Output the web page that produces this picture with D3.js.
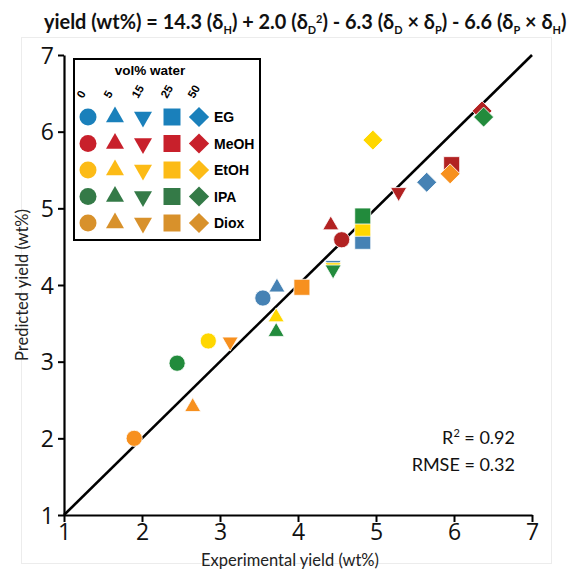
<!DOCTYPE html>
<html>
<head>
<meta charset="utf-8">
<script src="https://cdn.jsdelivr.net/npm/d3@7"></script>
<style>
  body { margin: 0; background: #fff; }
  svg { display: block; }
</style>
</head>
<body>
<svg id="chart" width="569" height="575"></svg>
<script>
// Solvent systems and water contents
const solvents = ["EG", "MeOH", "EtOH", "IPA", "Diox"];
const waterLevels = ["0", "5", "15", "25", "50"];
const xTicks = [1, 2, 3, 4, 5, 6, 7];
const yTicks = [1, 2, 3, 4, 5, 6, 7];

// Experimental / predicted yield (wt%), one entry per water level (0, 5, 15, 25, 50 vol%)
const expEG    = [3.55, 3.73, 4.45, 4.83, 5.65];
const predEG   = [3.83, 3.97, 4.26, 4.57, 5.34];
const expMeOH  = [4.56, 4.42, 5.29, 5.97, 6.36];
const predMeOH = [4.59, 4.78, 5.21, 5.57, 6.27];
const expEtOH  = [2.85, 3.72, 4.45, 4.83, 4.96];
const predEtOH = [3.27, 3.58, 4.23, 4.74, 5.89];
const expIPA   = [2.45, 3.72, 4.45, 4.83, 6.38];
const predIPA  = [2.98, 3.39, 4.20, 4.90, 6.19];
const expDiox  = [1.90, 2.65, 3.13, 4.05, 5.95];
const predDiox = [2.00, 2.41, 3.26, 3.97, 5.45];

const experimental = [expEG, expMeOH, expEtOH, expIPA, expDiox];
const predicted = [predEG, predMeOH, predEtOH, predIPA, predDiox];

const dataColors = ["#4682b4", "#b22222", "#ffd700", "#228b3c", "#f7901e"];
const legendColors = ["#1a80bb", "#c8202b", "#fcbb16", "#347a47", "#d8912b"];

const r2 = "0.92";
const rmse = "0.32";

const svg = d3.select("#chart");

// faint figure frame
svg.append("rect")
  .attr("x", 21.5).attr("y", 37.5).attr("width", 530).attr("height", 526)
  .attr("fill", "none").attr("stroke", "#ececec").attr("stroke-width", 1);

const x = d3.scaleLinear().domain([1, 7]).range([64, 532]);
const y = d3.scaleLinear().domain([1, 7]).range([515, 55]);

// marker shapes, by water level
const shapeFns = [
  a => d3.symbol(d3.symbolCircle, a.circle)(),
  a => d3.symbol(d3.symbolTriangle, a.tri)(),
  a => d3.symbol(d3.symbolTriangle, a.tri)(),
  a => d3.symbol(d3.symbolSquare, a.square)(),
  a => d3.symbol(d3.symbolSquare, a.diamond)()
];
const shapeRot = [0, 0, 180, 0, 45];
const dataSizes = { circle: 205, tri: 112, square: 256, diamond: 200 };
const legendSizes = { circle: 227, tri: 140, square: 289, diamond: 205 };

// axes
const xAxis = svg.append("g")
  .attr("transform", `translate(0,${y(1)})`)
  .call(d3.axisBottom(x).tickValues(xTicks).tickFormat(d3.format("d"))
    .tickSize(7).tickSizeOuter(0).tickPadding(2));
const yAxis = svg.append("g")
  .attr("transform", `translate(${x(1)},0)`)
  .call(d3.axisLeft(y).tickValues(yTicks).tickFormat(d3.format("d"))
    .tickSize(6).tickSizeOuter(0).tickPadding(4));
[xAxis, yAxis].forEach(g => {
  g.select(".domain").attr("stroke", "#000").attr("stroke-width", 2.2);
  g.selectAll(".tick line").attr("stroke", "#000").attr("stroke-width", 2);
  g.selectAll(".tick text")
    .attr("fill", "#111")
    .style("font-family", "'Open Sans', sans-serif")
    .style("font-size", "23px");
});
yAxis.selectAll(".tick text").attr("dy", "0.36em");

// parity line
svg.append("path")
  .attr("d", d3.line().x(d => x(d)).y(d => y(d))([1, 7]))
  .attr("stroke", "#000").attr("stroke-width", 2.6).attr("fill", "none");

// data points
const points = [];
solvents.forEach((s, i) => {
  waterLevels.forEach((w, j) => {
    points.push({ s: i, w: j, xv: experimental[i][j], yv: predicted[i][j] });
  });
});
svg.append("g").selectAll("path")
  .data(points)
  .join("path")
  .attr("d", d => shapeFns[d.w](dataSizes))
  .attr("transform", d => `translate(${x(d.xv)},${y(d.yv)}) rotate(${shapeRot[d.w]})`)
  .attr("fill", d => dataColors[d.s])
  .attr("stroke", "#fff").attr("stroke-width", 0.8);

// legend
const lg = svg.append("g");
lg.append("rect")
  .attr("x", 74).attr("y", 59).attr("width", 186).attr("height", 181)
  .attr("fill", "#fff").attr("stroke", "#000").attr("stroke-width", 2);
lg.append("text")
  .attr("x", 150).attr("y", 75).attr("text-anchor", "middle")
  .style("font-family", "'Liberation Sans', Arial, sans-serif")
  .style("font-weight", "bold").style("font-size", "13.5px")
  .text("vol% water");
const colX = [88, 115, 143, 172, 199];
const rowY = solvents.map((s, i) => 117 + i * 26.5);
lg.selectAll("text.col")
  .data(waterLevels)
  .join("text")
  .attr("class", "col")
  .attr("transform", (d, j) => `translate(${colX[j] - 5},${99}) rotate(-60)`)
  .style("font-family", "'Liberation Sans', Arial, sans-serif")
  .style("font-weight", "bold").style("font-size", "11.5px")
  .text(d => d);
solvents.forEach((s, i) => {
  waterLevels.forEach((w, j) => {
    lg.append("path")
      .attr("d", shapeFns[j](legendSizes))
      .attr("transform", `translate(${colX[j]},${rowY[i]}) rotate(${shapeRot[j]})`)
      .attr("fill", legendColors[i]);
  });
  lg.append("text")
    .attr("x", 214).attr("y", rowY[i]).attr("dy", "0.36em")
    .style("font-family", "'Liberation Sans', Arial, sans-serif")
    .style("font-weight", "bold").style("font-size", "14px")
    .text(s);
});

// fit statistics
const stat = svg.append("g")
  .style("font-family", "Lato, 'Open Sans', sans-serif")
  .style("font-size", "18px").attr("fill", "#111");
const r2t = stat.append("text").attr("x", 515).attr("y", 444).attr("text-anchor", "end");
r2t.append("tspan").text("R");
r2t.append("tspan").attr("dy", -7).style("font-size", "11px").text("2");
r2t.append("tspan").attr("dy", 7).text(" = " + r2);
stat.append("text").attr("x", 515).attr("y", 471).attr("text-anchor", "end")
  .text("RMSE = " + rmse);

// axis titles
svg.append("text")
  .attr("x", 290).attr("y", 566).attr("text-anchor", "middle")
  .style("font-family", "Lato, 'Open Sans', sans-serif").style("font-size", "16.5px")
  .attr("fill", "#222")
  .text("Experimental yield (wt%)");
svg.append("text")
  .attr("transform", "translate(22,285) rotate(-90)").attr("text-anchor", "middle")
  .attr("dy", "0.35em")
  .style("font-family", "Lato, 'Open Sans', sans-serif").style("font-size", "16.5px")
  .attr("fill", "#222")
  .text("Predicted yield (wt%)");

// model equation: [text, position] with position n = normal, b = subscript, p = superscript
const title = svg.append("text")
  .style("font-family", "Lato, 'Open Sans', sans-serif")
  .style("font-weight", "bold").style("font-size", "20px").attr("fill", "#111");
const parts = [
  ["yield (wt%) = 14.3 (δ", "n"], ["H", "b"], [") + 2.0 (δ", "n"], ["D", "b"], ["2", "p"],
  [") - 6.3 (δ", "n"], ["D", "b"], [" ×  δ", "n"], ["P", "b"], [") - 6.6 (δ", "n"],
  ["P", "b"], [" × δ", "n"], ["H", "b"], [")", "n"]
];
const offset = { n: 0, b: 5, p: -6 };
let cur = 0;
parts.forEach(([t, k]) => {
  const sp = title.append("tspan").text(t).attr("dy", offset[k] - cur);
  cur = offset[k];
  if (k !== "n") sp.style("font-size", "11px");
});
const tw = title.node().getComputedTextLength();
title.attr("transform", `translate(44,29) scale(${523 / tw},1)`);
</script>
</body>
</html>
